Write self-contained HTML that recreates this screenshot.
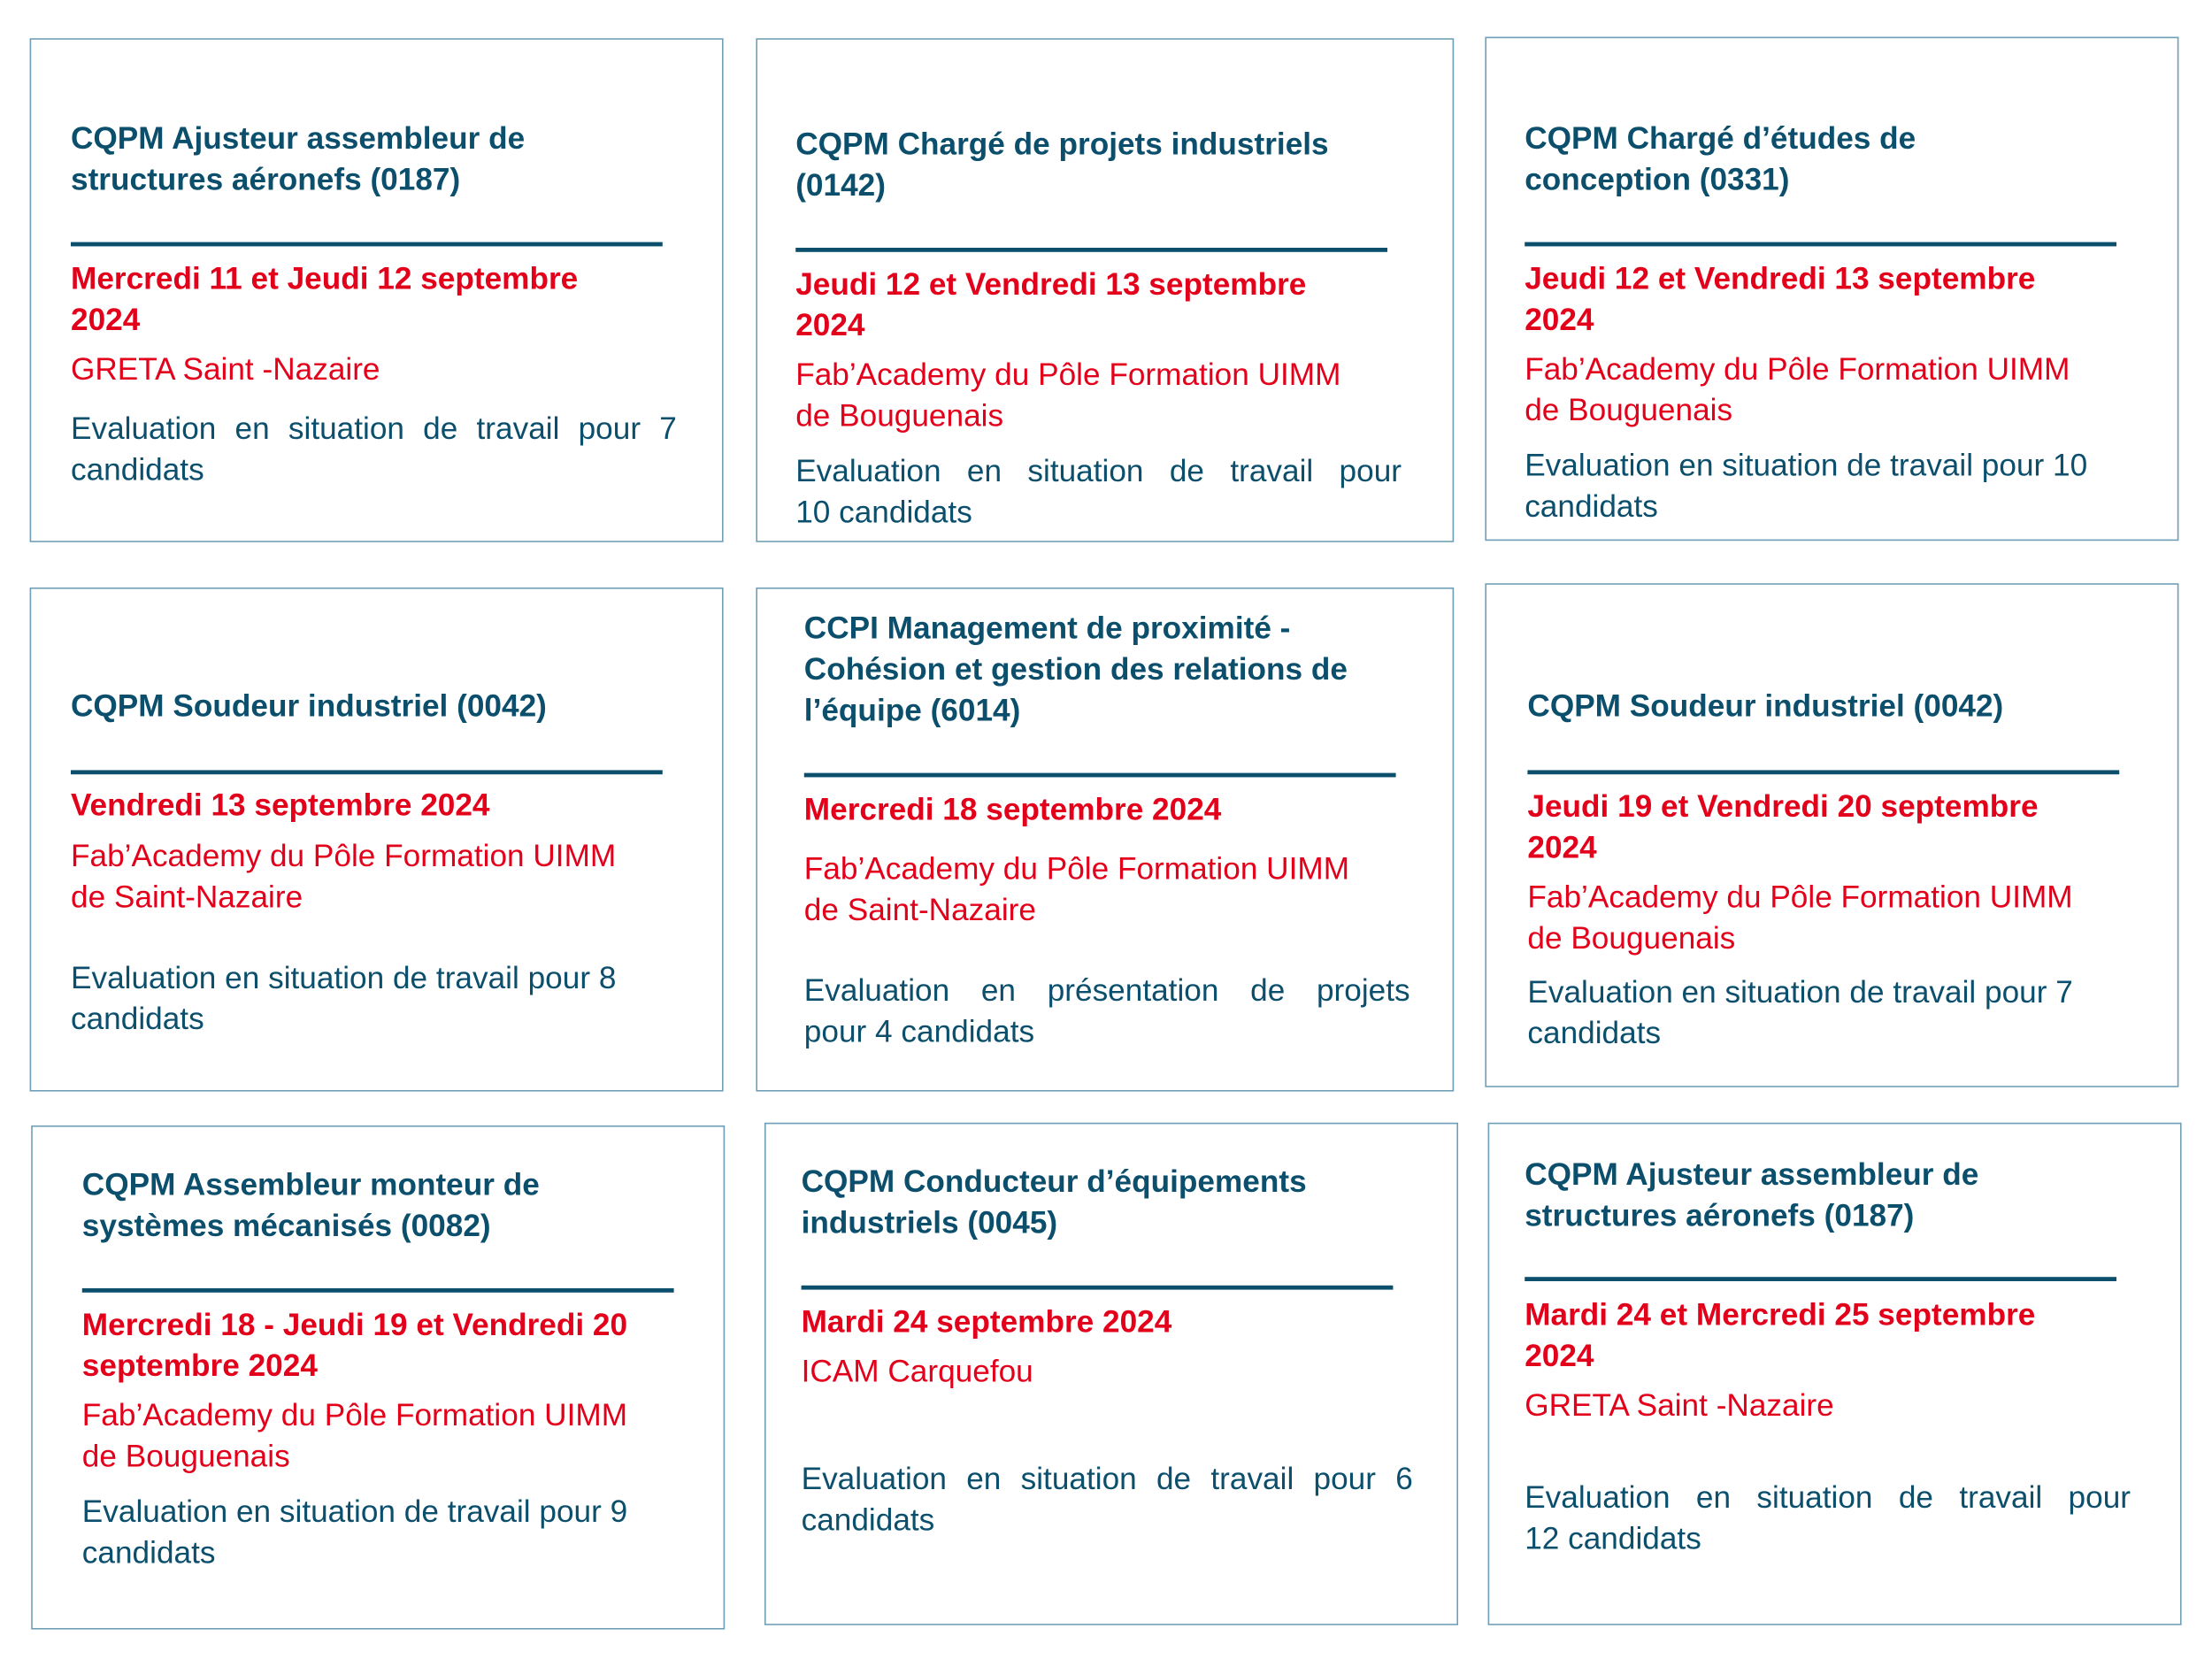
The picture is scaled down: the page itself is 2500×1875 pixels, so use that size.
<!DOCTYPE html>
<html><head><meta charset="utf-8">
<style>
html,body{margin:0;padding:0;background:#fff;}
body{width:2500px;height:1875px;overflow:hidden;position:relative;}
#wrap{position:absolute;left:0;top:0;width:1563px;height:1172px;transform:scale(1.6);transform-origin:0 0;font-family:"Liberation Sans",Arial,sans-serif;font-size:22px;line-height:29px;}
.card{position:absolute;border:1px solid #6f9fb6;box-sizing:border-box;}
.t{position:absolute;white-space:nowrap;}
.title{color:#0b4f6c;font-weight:bold;}
.date{color:#e2001a;font-weight:bold;}
.loc{color:#e2001a;}
.ev{color:#0b4f6c;}
.rule{position:absolute;height:3px;background:#0b4f6c;}
.j{display:block;text-align:justify;text-align-last:justify;white-space:normal;}
</style></head><body>
<div id="wrap">

<div class="card" style="left:21px;top:27px;width:490px;height:356px"></div>
<div class="t title" style="left:50px;top:83px">CQPM Ajusteur assembleur de<br>structures aéronefs (0187)</div>
<div class="rule" style="left:50px;top:171px;width:418px"></div>
<div class="t date" style="left:50px;top:182px">Mercredi 11 et Jeudi 12 septembre<br>2024</div>
<div class="t loc" style="left:50px;top:246px">GRETA Saint -Nazaire</div>
<div class="t ev" style="left:50px;top:288px;width:428px"><span class="j">Evaluation en situation de travail pour 7</span>candidats</div>

<div class="card" style="left:534px;top:27px;width:493px;height:356px"></div>
<div class="t title" style="left:562px;top:87px">CQPM Chargé de projets industriels<br>(0142)</div>
<div class="rule" style="left:562px;top:175px;width:418px"></div>
<div class="t date" style="left:562px;top:186px">Jeudi 12 et Vendredi 13 septembre<br>2024</div>
<div class="t loc" style="left:562px;top:250px">Fab’Academy du Pôle Formation UIMM<br>de Bouguenais</div>
<div class="t ev" style="left:562px;top:318px;width:428px"><span class="j">Evaluation en situation de travail pour</span>10 candidats</div>

<div class="card" style="left:1049px;top:26px;width:490px;height:356px"></div>
<div class="t title" style="left:1077px;top:83px">CQPM Chargé d’études de<br>conception (0331)</div>
<div class="rule" style="left:1077px;top:171px;width:418px"></div>
<div class="t date" style="left:1077px;top:182px">Jeudi 12 et Vendredi 13 septembre<br>2024</div>
<div class="t loc" style="left:1077px;top:246px">Fab’Academy du Pôle Formation UIMM<br>de Bouguenais</div>
<div class="t ev" style="left:1077px;top:314px">Evaluation en situation de travail pour 10<br>candidats</div>

<div class="card" style="left:21px;top:415px;width:490px;height:356px"></div>
<div class="t title" style="left:50px;top:484px">CQPM Soudeur industriel (0042)</div>
<div class="rule" style="left:50px;top:544px;width:418px"></div>
<div class="t date" style="left:50px;top:554px">Vendredi 13 septembre 2024</div>
<div class="t loc" style="left:50px;top:590px">Fab’Academy du Pôle Formation UIMM<br>de Saint-Nazaire</div>
<div class="t ev" style="left:50px;top:676px">Evaluation en situation de travail pour 8<br>candidats</div>

<div class="card" style="left:534px;top:415px;width:493px;height:356px"></div>
<div class="t title" style="left:568px;top:429px">CCPI Management de proximité -<br>Cohésion et gestion des relations de<br>l’équipe (6014)</div>
<div class="rule" style="left:568px;top:546px;width:418px"></div>
<div class="t date" style="left:568px;top:557px">Mercredi 18 septembre 2024</div>
<div class="t loc" style="left:568px;top:599px">Fab’Academy du Pôle Formation UIMM<br>de Saint-Nazaire</div>
<div class="t ev" style="left:568px;top:685px;width:428px"><span class="j">Evaluation en présentation de projets</span>pour 4 candidats</div>

<div class="card" style="left:1049px;top:412px;width:490px;height:356px"></div>
<div class="t title" style="left:1079px;top:484px">CQPM Soudeur industriel (0042)</div>
<div class="rule" style="left:1079px;top:544px;width:418px"></div>
<div class="t date" style="left:1079px;top:555px">Jeudi 19 et Vendredi 20 septembre<br>2024</div>
<div class="t loc" style="left:1079px;top:619px">Fab’Academy du Pôle Formation UIMM<br>de Bouguenais</div>
<div class="t ev" style="left:1079px;top:686px">Evaluation en situation de travail pour 7<br>candidats</div>

<div class="card" style="left:22px;top:795px;width:490px;height:356px"></div>
<div class="t title" style="left:58px;top:822px">CQPM Assembleur monteur de<br>systèmes mécanisés (0082)</div>
<div class="rule" style="left:58px;top:910px;width:418px"></div>
<div class="t date" style="left:58px;top:921px">Mercredi 18 - Jeudi 19 et Vendredi 20<br>septembre 2024</div>
<div class="t loc" style="left:58px;top:985px">Fab’Academy du Pôle Formation UIMM<br>de Bouguenais</div>
<div class="t ev" style="left:58px;top:1053px">Evaluation en situation de travail pour 9<br>candidats</div>

<div class="card" style="left:540px;top:793px;width:490px;height:355px"></div>
<div class="t title" style="left:566px;top:820px">CQPM Conducteur d’équipements<br>industriels (0045)</div>
<div class="rule" style="left:566px;top:908px;width:418px"></div>
<div class="t date" style="left:566px;top:919px">Mardi 24 septembre 2024</div>
<div class="t loc" style="left:566px;top:954px">ICAM Carquefou</div>
<div class="t ev" style="left:566px;top:1030px;width:432px"><span class="j">Evaluation en situation de travail pour 6</span>candidats</div>

<div class="card" style="left:1051px;top:793px;width:490px;height:355px"></div>
<div class="t title" style="left:1077px;top:815px">CQPM Ajusteur assembleur de<br>structures aéronefs (0187)</div>
<div class="rule" style="left:1077px;top:902px;width:418px"></div>
<div class="t date" style="left:1077px;top:914px">Mardi 24 et Mercredi 25 septembre<br>2024</div>
<div class="t loc" style="left:1077px;top:978px">GRETA Saint -Nazaire</div>
<div class="t ev" style="left:1077px;top:1043px;width:428px"><span class="j">Evaluation en situation de travail pour</span>12 candidats</div>

</div>
</body></html>
